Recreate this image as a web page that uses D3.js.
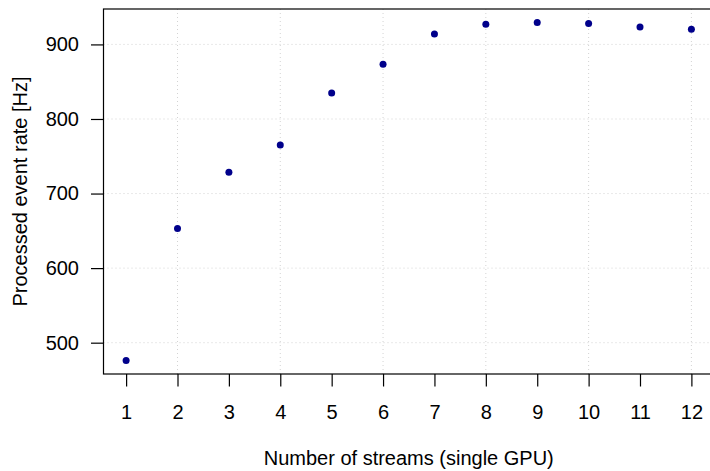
<!DOCTYPE html>
<html>
<head>
<meta charset="utf-8">
<script src="https://cdn.jsdelivr.net/npm/d3@7"></script>
<style>
  body { margin: 0; background: #fff; }
  svg text { font-family: "Liberation Sans", Arial, sans-serif; fill: #000; }
</style>
</head>
<body>
<svg id="plot" width="710" height="471"></svg>
<script>
// values
const streams = [1, 2, 3, 4, 5, 6, 7, 8, 9, 10, 11, 12];
const rates = [476, 653, 728.5, 765, 835, 873.5, 914, 927, 929.5, 928, 923.5, 920.5];
const yTicks = [500, 600, 700, 800, 900];
const gridX = [2, 4, 6, 8, 10, 12];

main();

function main () {
  const svg = d3.select('svg#plot');

  // plot region (right edge lies past the window, like the original crop)
  const left = 103.5;
  const right = 714;
  const top = 9;
  const bottom = 374;

  // R style 4% extension of data range
  const x = d3.scaleLinear().domain([0.56, 12.44]).range([left, right]);
  const y = d3.scaleLinear().domain([458, 947.5]).range([bottom, top]);

  // dotted grid
  const grid = svg.append('g');
  grid.selectAll('line.gx').data(gridX).join('line')
    .attr('x1', d => x(d)).attr('x2', d => x(d))
    .attr('y1', top).attr('y2', bottom);
  grid.selectAll('line.gy').data(yTicks).join('line')
    .attr('x1', left).attr('x2', right)
    .attr('y1', d => y(d)).attr('y2', d => y(d));
  grid.selectAll('line')
    .attr('stroke', '#d3d3d3')
    .attr('stroke-width', 1)
    .attr('stroke-dasharray', '1,3');

  // axes
  const xAxis = d3.axisBottom(x).tickValues(streams).tickFormat(d3.format('d'))
    .tickSize(12.5).tickPadding(18.6).tickSizeOuter(0);
  const yAxis = d3.axisLeft(y).tickValues(yTicks).tickFormat(d3.format('d'))
    .tickSize(12.5).tickPadding(12).tickSizeOuter(0);

  const gx = svg.append('g').attr('transform', `translate(0,${bottom})`).call(xAxis);
  const gy = svg.append('g').attr('transform', `translate(${left},0)`).call(yAxis);
  [gx, gy].forEach(g => {
    g.select('.domain').remove();
    g.selectAll('line').attr('stroke', '#000').attr('stroke-width', 1.2);
    g.selectAll('text').attr('font-size', 20).attr('font-family', '"Liberation Sans", Arial, sans-serif').attr('fill', '#000');
  });

  // box
  svg.append('rect')
    .attr('x', left).attr('y', top)
    .attr('width', right - left).attr('height', bottom - top)
    .attr('fill', 'none').attr('stroke', '#000').attr('stroke-width', 1.2);

  // points
  svg.append('g').selectAll('circle').data(streams).join('circle')
    .attr('cx', d => x(d))
    .attr('cy', (d, i) => y(rates[i]))
    .attr('r', 3.5)
    .attr('fill', '#00008b');

  // titles
  svg.append('text').text('Number of streams (single GPU)')
    .attr('x', (left + right) / 2).attr('y', 465)
    .attr('text-anchor', 'middle').attr('font-size', 20);
  svg.append('text').text('Processed event rate [Hz]')
    .attr('transform', `translate(26.5,${(top + bottom) / 2}) rotate(-90)`)
    .attr('text-anchor', 'middle').attr('font-size', 20);
}
</script>
</body>
</html>
